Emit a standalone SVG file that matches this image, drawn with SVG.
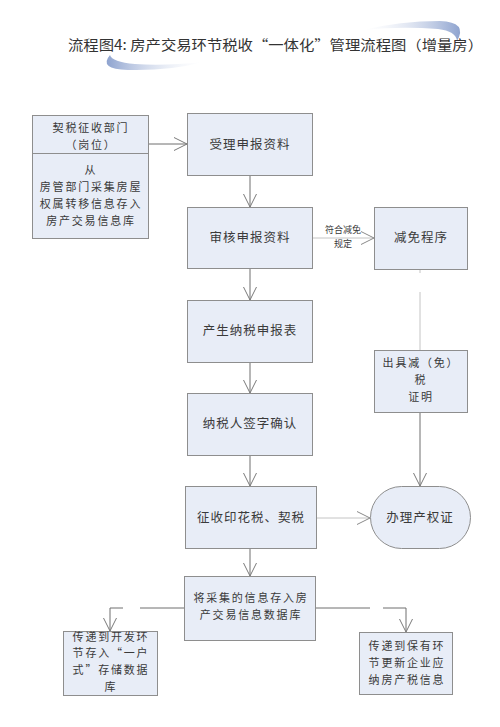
<svg xmlns="http://www.w3.org/2000/svg" width="500" height="727" viewBox="0 0 500 727">
<style>
.box{fill:#e8edf7;stroke:#8e8e8e;stroke-width:1}
.t{font-family:"Noto Sans CJK SC","Noto Sans",sans-serif;font-size:12.5px;fill:#3a3a3a;text-anchor:middle}
.m{font-family:"Noto Sans CJK SC","Noto Sans",sans-serif;font-size:11px;fill:#3a3a3a;text-anchor:middle;letter-spacing:1.8px}
.s{font-family:"Noto Sans CJK SC","Noto Sans",sans-serif;font-size:9px;fill:#3a3a3a;text-anchor:middle}
.c{fill:none;stroke:#6e6e6e;stroke-width:1}
.cl{fill:none;stroke:#c4c4c4;stroke-width:1}
</style>
<defs>
<marker id="ah" markerUnits="userSpaceOnUse" markerWidth="16" markerHeight="16" refX="14" refY="7" orient="auto" overflow="visible">
<path d="M1,0.5 L14,7 L1,13.5" fill="none" stroke="#7a7a7a" stroke-width="1"/>
</marker>
<marker id="ahl" markerUnits="userSpaceOnUse" markerWidth="16" markerHeight="16" refX="14" refY="7" orient="auto" overflow="visible">
<path d="M1,0.5 L14,7 L1,13.5" fill="none" stroke="#8a8a8a" stroke-width="1"/>
</marker>
<linearGradient id="g1" x1="0" y1="0" x2="1" y2="0">
<stop offset="0" stop-color="#8ea3cf"/>
<stop offset="1" stop-color="#ffffff" stop-opacity="0.2"/>
</linearGradient>
<linearGradient id="g2" x1="1" y1="0" x2="0" y2="0">
<stop offset="0" stop-color="#8ea3cf"/>
<stop offset="1" stop-color="#ffffff" stop-opacity="0.2"/>
</linearGradient>
</defs>
<rect width="500" height="727" fill="#ffffff"/>
<g id="title">
<path d="M110,55 Q98,69 128,70 Q170,71 203,62 Q165,66 135,64 Q112,62 110,55 Z" fill="url(#g1)"/>
<path d="M363,30 Q400,21 440,21 Q468,22 457,41 Q456,31 438,29 Q400,26 363,30 Z" fill="url(#g2)"/>
<text x="68" y="50" font-family="Noto Sans CJK SC, Noto Sans, sans-serif" font-size="14" fill="#333333" textLength="415" lengthAdjust="spacingAndGlyphs">流程图4:  房产交易环节税收“一体化”管理流程图（增量房）</text>
</g>
<g id="connectors">
<path class="c" d="M148,144 H187" marker-end="url(#ah)"/>
<path class="c" d="M250,175 V207" marker-end="url(#ah)"/>
<path class="cl" d="M312,238 H374" marker-end="url(#ahl)"/>
<path class="c" d="M250,268 V300" marker-end="url(#ah)"/>
<path class="c" d="M250,362 V393" marker-end="url(#ah)"/>
<path class="c" d="M250,455 V486" marker-end="url(#ah)"/>
<path class="cl" d="M420,269 V273 M420,292 V350"/>
<path class="c" d="M420,412 V486" marker-end="url(#ah)"/>
<path class="cl" d="M316,518 H370" marker-end="url(#ahl)"/>
<path class="c" d="M250,548 V576" marker-end="url(#ah)"/>
<path class="c" d="M184,608 H140 M123,608 H110 V631" marker-end="url(#ah)"/>
<path class="c" d="M315,608 H370 M383,608 H406 V632" marker-end="url(#ah)"/>
<text class="s" x="343" y="233">符合减免</text>
<text class="s" x="343" y="247">规定</text>
</g>
<g id="n_dept">
<rect class="box" x="32.5" y="115.5" width="116" height="123"/>
<line x1="32.5" y1="153.5" x2="148.5" y2="153.5" stroke="#8e8e8e"/>
<text class="m" x="91" y="132">契税征收部门</text>
<text class="m" x="91" y="149">（岗位）</text>
<text class="m" x="91" y="174">从</text>
<text class="m" x="91" y="191">房管部门采集房屋</text>
<text class="m" x="91" y="208">权属转移信息存入</text>
<text class="m" x="91" y="225">房产交易信息库</text>
</g>
<g id="n_accept">
<rect class="box" x="187.5" y="113.5" width="125" height="62"/>
<text class="t" x="250" y="149" letter-spacing="1">受理申报资料</text>
</g>
<g id="n_review">
<rect class="box" x="187.5" y="207.5" width="125" height="61"/>
<text class="t" x="250" y="242" letter-spacing="1">审核申报资料</text>
</g>
<g id="n_exempt">
<rect class="box" x="374.5" y="207.5" width="93" height="62"/>
<text class="t" x="421" y="242" letter-spacing="1">减免程序</text>
</g>
<g id="n_form">
<rect class="box" x="187.5" y="300.5" width="125" height="62"/>
<text class="t" x="250" y="335" letter-spacing="1">产生纳税申报表</text>
</g>
<g id="n_sign">
<rect class="box" x="187.5" y="393.5" width="125" height="62"/>
<text class="t" x="250" y="428" letter-spacing="1">纳税人签字确认</text>
</g>
<g id="n_cert">
<rect class="box" x="374.5" y="350.5" width="93" height="62"/>
<text class="m" x="421" y="367">出具减（免）</text>
<text class="m" x="421" y="384">税</text>
<text class="m" x="421" y="401">证明</text>
</g>
<g id="n_collect">
<rect class="box" x="185.5" y="486.5" width="131" height="62"/>
<text class="t" x="251" y="522" letter-spacing="1">征收印花税、契税</text>
</g>
<g id="n_property">
<rect class="box" x="370.5" y="486.5" width="100" height="62" rx="31" ry="31"/>
<text class="t" x="420" y="522" letter-spacing="1">办理产权证</text>
</g>
<g id="n_store">
<rect class="box" x="184.5" y="576.5" width="131" height="64" stroke="#7a7a7a"/>
<text class="m" x="251" y="602">将采集的信息存入房</text>
<text class="m" x="251" y="619">产交易信息数据库</text>
</g>
<g id="n_dev">
<rect class="box" x="63.5" y="631.5" width="94" height="64" stroke="#7a7a7a"/>
<text class="m" x="111" y="641">传递到开发环</text>
<text class="m" x="111" y="657">节存入“一户</text>
<text class="m" x="111" y="674">式”存储数据</text>
<text class="m" x="111" y="691">库</text>
</g>
<g id="n_hold">
<rect class="box" x="359.5" y="632.5" width="93" height="62" stroke="#7a7a7a"/>
<text class="m" x="407" y="650">传递到保有环</text>
<text class="m" x="407" y="667">节更新企业应</text>
<text class="m" x="407" y="684">纳房产税信息</text>
</g>
</svg>
